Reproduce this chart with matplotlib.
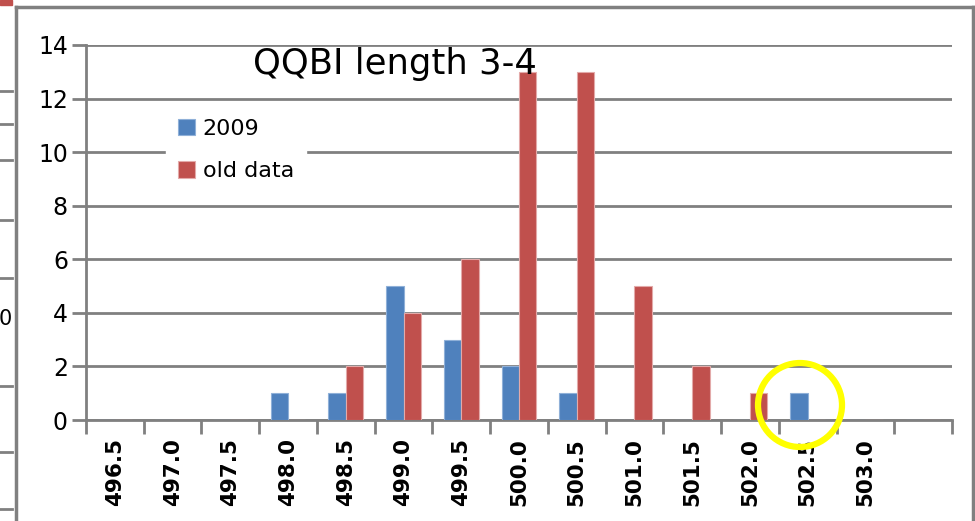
import matplotlib
matplotlib.use("Agg")
import matplotlib.pyplot as plt
import numpy as np
from matplotlib.lines import Line2D
from matplotlib.patches import Ellipse, Rectangle

categories = ['496.5', '497.0', '497.5', '498.0', '498.5', '499.0', '499.5',
              '500.0', '500.5', '501.0', '501.5', '502.0', '502.5', '503.0', '']
s2009 = [0, 0, 0, 1, 1, 5, 3, 2, 1, 0, 0, 0, 1, 0, 0]
old_data = [0, 0, 0, 0, 2, 4, 6, 13, 13, 5, 2, 1, 0, 0, 0]
series_names = ['2009', 'old data']
title = 'QQBI length 3-4'
yticks = [0, 2, 4, 6, 8, 10, 12, 14]

W, H = 975, 521
fig = plt.figure(figsize=(W / 100, H / 100), dpi=100)
fig.patch.set_facecolor('white')

def fx(px):
    return px / W

def fy(py):
    return 1 - py / H

ax = fig.add_axes([fx(86), fy(420), fx(952) - fx(86), fy(45) - fy(420)])
grey = '#808080'
blue = '#4F81BD'
red = '#C0504D'

x = np.arange(len(categories))
bw = 0.3
ax.bar(x - bw / 2, s2009, bw, color=blue, edgecolor='#8FB0D8', linewidth=0.8,
       label=series_names[0], zorder=3)
ax.bar(x + bw / 2, old_data, bw, color=red, edgecolor='#E3AAA9', linewidth=0.8,
       label=series_names[1], zorder=3)

ax.set_xlim(-0.5, len(categories) - 0.5)
ax.set_ylim(0, 14)
ax.set_yticks(yticks)
ax.set_yticklabels([str(v) for v in yticks], fontsize=17, family='DejaVu Sans')
ax.yaxis.grid(True, color=grey, linewidth=2.0, zorder=0)
ax.set_axisbelow(True)

# x ticks at category boundaries, labels at centers
ax.set_xticks(np.arange(len(categories) + 1) - 0.5)
ax.set_xticklabels([])
ax.set_xticks(x, minor=True)
ax.set_xticklabels(categories, minor=True, rotation=90, fontsize=15.5,
                   family='DejaVu Sans', fontweight='bold')
ax.tick_params(axis='x', which='major', length=10, width=2, color=grey, direction='out')
ax.tick_params(axis='x', which='minor', length=0, pad=13)
ax.tick_params(axis='y', length=10, width=2, color=grey, direction='out', pad=3)

for s in ['top', 'right']:
    ax.spines[s].set_visible(False)
for s in ['left', 'bottom']:
    ax.spines[s].set_color(grey)
    ax.spines[s].set_linewidth(2.0)

leg = ax.legend(loc='center', bbox_to_anchor=(fx(236), fy(150)),
                bbox_transform=fig.transFigure,
                frameon=True, fontsize=16, handlelength=0.75, handleheight=0.75,
                handletextpad=0.35, labelspacing=1.0, borderpad=0.55)
leg.get_frame().set_edgecolor('white')
leg.get_frame().set_facecolor('white')
leg.get_frame().set_alpha(1)
leg.get_frame().set_boxstyle('square', pad=0)

fig.text(fx(395), fy(74), title, ha='center', va='baseline', fontsize=25.5,
         family='DejaVu Sans')

# outer frame
fig.add_artist(Line2D([fx(16), fx(16)], [fy(7), 0], color=grey, lw=2.5))
fig.add_artist(Line2D([fx(16), fx(973)], [fy(7), fy(7)], color=grey, lw=2.5))
fig.add_artist(Line2D([fx(973), fx(973)], [fy(7), 0], color=grey, lw=2.5))

# fragments at far left
for py in [91, 124, 160, 220, 278, 386, 452, 509]:
    fig.add_artist(Line2D([0, fx(12)], [fy(py), fy(py)], color=grey, lw=2))
fig.add_artist(Rectangle((0, fy(5)), fx(12), 1 - fy(5), transform=fig.transFigure,
                         color=red, zorder=5))
fig.text(fx(5), fy(319), '0', ha='center', va='center', fontsize=15, family='DejaVu Sans')

# yellow highlight circle
fig.add_artist(Ellipse((fx(800), fy(405)), fx(84), 84 / H, transform=fig.transFigure,
                       fill=False, edgecolor='#FFFF00', linewidth=4.5, zorder=10))

fig.savefig('out.png', dpi=100)
